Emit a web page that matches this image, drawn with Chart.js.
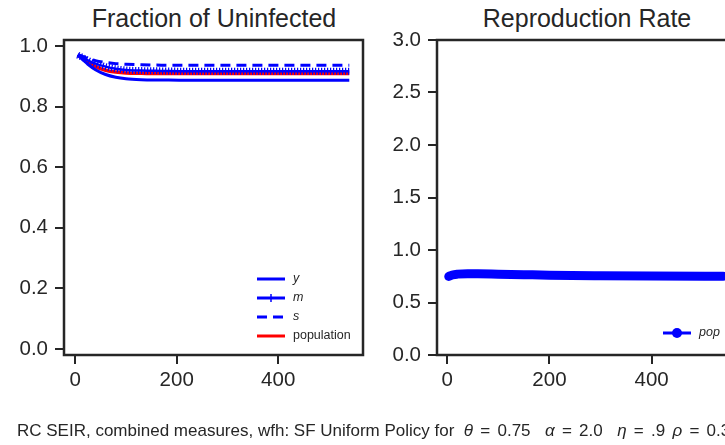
<!DOCTYPE html>
<html>
<head>
<meta charset="utf-8">
<script src="https://cdn.jsdelivr.net/npm/chart.js@4.4.1/dist/chart.umd.min.js"></script>
<style>
  html, body { margin: 0; padding: 0; background: #fff; }
  body { width: 725px; height: 445px; overflow: hidden; position: relative; font-family: "Liberation Sans", Arial, sans-serif; color: #262626; }
  canvas { position: absolute; top: 0; }
  #cLeft { left: 0; }
  #cRight { left: 380px; }
  .title { position: absolute; top: 4px; font-size: 25px; text-align: center; white-space: nowrap; }
  #caption { position: absolute; left: 17px; top: 421px; font-size: 17px; white-space: nowrap; }
  #caption .math { word-spacing: 2.5px; }
</style>
</head>
<body>
<div class="title" style="left:64px;width:300px">Fraction of Uninfected</div>
<div class="title" style="left:437px;width:300px">Reproduction Rate</div>
<canvas id="cLeft" width="380" height="445"></canvas>
<canvas id="cRight" width="380" height="445"></canvas>
<div id="caption">RC SEIR, combined measures, wfh: SF Uniform Policy for &nbsp;<span class="math"><i>θ</i> = 0.75 &nbsp;<i>α</i> = 2.0 &nbsp;<i>η</i> = .9 <i>ρ</i> = 0.3</span></div>

<script>
// --- data ---
const days       = [5, 15, 25, 40, 60, 80, 100, 130, 170, 220, 300, 400, 540];
const yValues    = [0.970, 0.955, 0.940, 0.922, 0.906, 0.897, 0.892, 0.889, 0.888, 0.887, 0.887, 0.887, 0.887];
const mValues    = [0.970, 0.962, 0.953, 0.942, 0.932, 0.925, 0.921, 0.919, 0.918, 0.917, 0.917, 0.917, 0.917];
const sValues    = [0.972, 0.966, 0.959, 0.952, 0.946, 0.942, 0.940, 0.938, 0.937, 0.937, 0.937, 0.937, 0.937];
const popValues  = [0.970, 0.959, 0.947, 0.932, 0.920, 0.914, 0.911, 0.910, 0.909, 0.909, 0.909, 0.909, 0.909];

const rDays      = [3, 10, 20, 40, 60, 100, 150, 200, 300, 400, 540];
const rValues    = [0.748, 0.762, 0.770, 0.775, 0.774, 0.770, 0.765, 0.760, 0.755, 0.752, 0.750];

const xTicks     = [0, 200, 400];
const fracTicks  = [0, 0.2, 0.4, 0.6, 0.8, 1.0];
const rateTicks  = [0, 0.5, 1.0, 1.5, 2.0, 2.5, 3.0];

const INK = '#262626';
const pts = (xs, ys) => xs.map((x, i) => ({ x: x, y: ys[i] }));

// matplotlib-like frame around the plot area
const frame = {
  id: 'frame',
  afterDraw(chart) {
    const { ctx, chartArea: a } = chart;
    ctx.save();
    ctx.strokeStyle = INK;
    ctx.lineWidth = 2.5;
    ctx.strokeRect(a.left, a.top, a.right - a.left, a.bottom - a.top);
    ctx.restore();
  }
};

function axis(min, max, ticks, fmt, isX, size) {
  return {
    type: 'linear',
    min: min, max: max,
    border: { display: false },
    grid: { drawOnChartArea: false, drawTicks: true, tickLength: 9, color: INK, lineWidth: 2 },
    ticks: {
      color: INK, padding: isX ? 4 : 7,
      font: { family: 'Liberation Sans', size: 20.5 },
      callback: fmt
    },
    afterBuildTicks: s => { s.ticks = ticks.map(v => ({ value: v })); },
    afterFit: s => { if (isX) s.height = size; else s.width = size; }
  };
}

function drawLegend(ctx, items, x0, y0, step) {
  ctx.save();
  items.forEach((it, i) => {
    const y = y0 + i * step;
    ctx.strokeStyle = it.color;
    ctx.lineWidth = 3;
    ctx.setLineDash(it.dash || []);
    ctx.beginPath(); ctx.moveTo(x0, y); ctx.lineTo(x0 + 28, y); ctx.stroke();
    ctx.setLineDash([]);
    if (it.marker === 'plus') {
      ctx.lineWidth = 1.5;
      ctx.beginPath(); ctx.moveTo(x0 + 14, y - 4); ctx.lineTo(x0 + 14, y + 4); ctx.stroke();
    } else if (it.marker === 'dot') {
      ctx.fillStyle = it.color;
      ctx.beginPath(); ctx.arc(x0 + 14, y, 5, 0, Math.PI * 2); ctx.fill();
    }
    ctx.fillStyle = INK;
    ctx.font = (it.italic ? 'italic ' : '') + '12.5px "Liberation Sans"';
    ctx.textBaseline = 'middle';
    ctx.fillText(it.label, x0 + 36, y);
  });
  ctx.restore();
}

const leftLegend = {
  id: 'leftLegend',
  afterDraw(chart) {
    const a = chart.chartArea;
    drawLegend(chart.ctx, [
      { label: 'y', italic: true, color: '#0000ff' },
      { label: 'm', italic: true, color: '#0000ff', marker: 'plus' },
      { label: 's', italic: true, color: '#0000ff', dash: [10, 6] },
      { label: 'population', color: '#ff0000' }
    ], a.right - 106, a.bottom - 76, 19);
  }
};

const rightLegend = {
  id: 'rightLegend',
  afterDraw(chart) {
    const a = chart.chartArea;
    drawLegend(chart.ctx, [
      { label: 'pop', italic: true, color: '#0000ff', marker: 'dot' }
    ], a.right - 74, a.bottom - 22, 19);
  }
};

// --- left: fraction of uninfected ---
new Chart(document.getElementById('cLeft'), {
  type: 'line',
  data: {
    datasets: [
      { data: pts(days, sValues), borderColor: '#0000ff', borderWidth: 3, borderDash: [10, 6] },
      { data: pts(days, mValues), borderColor: '#0000ff', borderWidth: 2.5 },
      // dense '+' markers along m
      { data: pts(days, mValues), borderColor: '#0000ff', borderWidth: 7, borderDash: [1.2, 1.8] },
      { data: pts(days, yValues), borderColor: '#0000ff', borderWidth: 3 },
      { data: pts(days, popValues), borderColor: '#ff0000', borderWidth: 3.5 }
    ].map(d => Object.assign(d, { pointRadius: 0, fill: false, cubicInterpolationMode: 'monotone' }))
  },
  options: {
    responsive: false,
    animation: false,
    layout: { padding: { top: 40, left: 0, right: 17, bottom: 45 } },
    plugins: { legend: { display: false }, tooltip: { enabled: false } },
    scales: {
      x: axis(-22, 567, xTicks, v => String(v), true, 45),
      y: axis(-0.02, 1.02, fracTicks, v => v.toFixed(1), false, 64)
    }
  },
  plugins: [frame, leftLegend]
});

// --- right: reproduction rate ---
new Chart(document.getElementById('cRight'), {
  type: 'line',
  data: {
    datasets: [
      { data: pts(rDays, rValues), borderColor: '#0000ff', borderWidth: 9, pointRadius: 0,
        borderCapStyle: 'round', fill: false, cubicInterpolationMode: 'monotone' }
    ]
  },
  options: {
    responsive: false,
    animation: false,
    layout: { padding: { top: 40, left: 0, right: 23, bottom: 45 } },
    plugins: { legend: { display: false }, tooltip: { enabled: false } },
    scales: {
      x: axis(-20, 567, xTicks, v => String(v), true, 45),
      y: axis(0, 3, rateTicks, v => v.toFixed(1), false, 57)
    }
  },
  plugins: [frame, rightLegend]
});
</script>
</body>
</html>
